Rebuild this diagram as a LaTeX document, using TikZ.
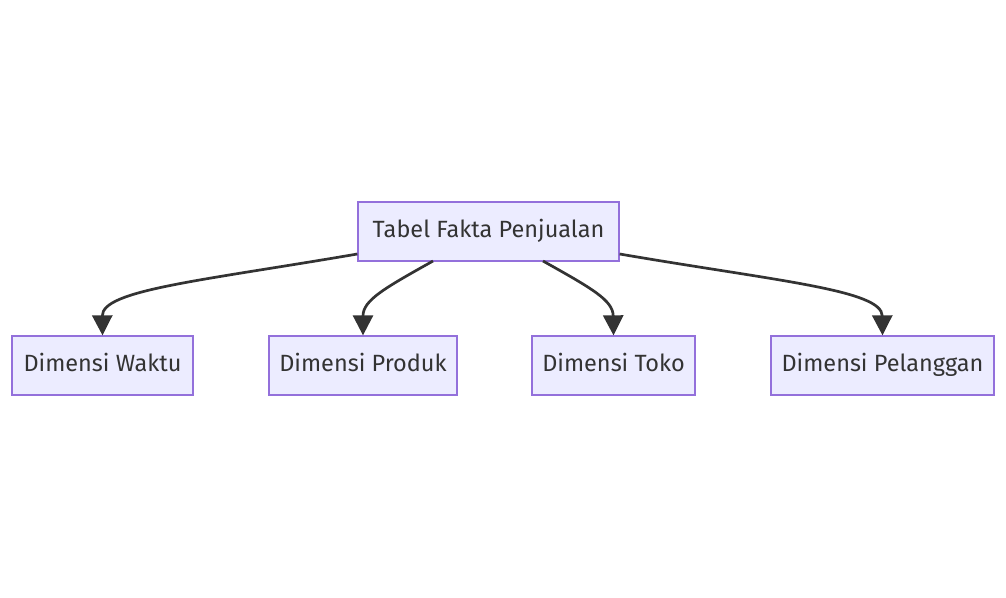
\documentclass[tikz,border=0pt]{standalone}
\usepackage{fontspec}
\setmainfont{Fira Sans}
\usetikzlibrary{arrows.meta}
\definecolor{boxfill}{HTML}{ECECFF}
\definecolor{boxline}{HTML}{9370DB}
\definecolor{txt}{HTML}{333333}
\definecolor{edge}{HTML}{333333}
\tikzset{
  ent/.style={draw=boxline, fill=boxfill, line width=1.3pt, minimum height=59pt, inner sep=0pt, text=txt, font=\fontsize{23.5}{28}\selectfont, text height=17pt, text depth=5pt},
  link/.style={draw=edge, line width=2.7pt, -{Triangle[length=20pt,width=20pt]}}
}
\begin{document}
\begin{tikzpicture}[x=1pt,y=-1pt]
\useasboundingbox[fill=white] (0,0) rectangle (1006,597);
\node[ent, minimum width=261pt] (fakta) at (488.5,231.5) {Tabel Fakta Penjualan};
\node[ent, minimum width=181pt] (waktu) at (102.5,365.5) {Dimensi Waktu};
\node[ent, minimum width=188pt] (produk) at (363,365.5) {Dimensi Produk};
\node[ent, minimum width=163pt] (toko) at (613.5,365.5) {Dimensi Toko};
\node[ent, minimum width=223pt] (pelanggan) at (882.5,365.5) {Dimensi Pelanggan};
\draw[link] (fakta.south west |- 0,254) .. controls (200,281) and (102,290) .. (waktu.north);
\draw[link] (433,261) .. controls (385,288) and (363,300) .. (produk.north);
\draw[link] (543,261) .. controls (591,288) and (613,300) .. (toko.north);
\draw[link] (fakta.south east |- 0,254) .. controls (777,281) and (882,290) .. (pelanggan.north);
\end{tikzpicture}
\end{document}
